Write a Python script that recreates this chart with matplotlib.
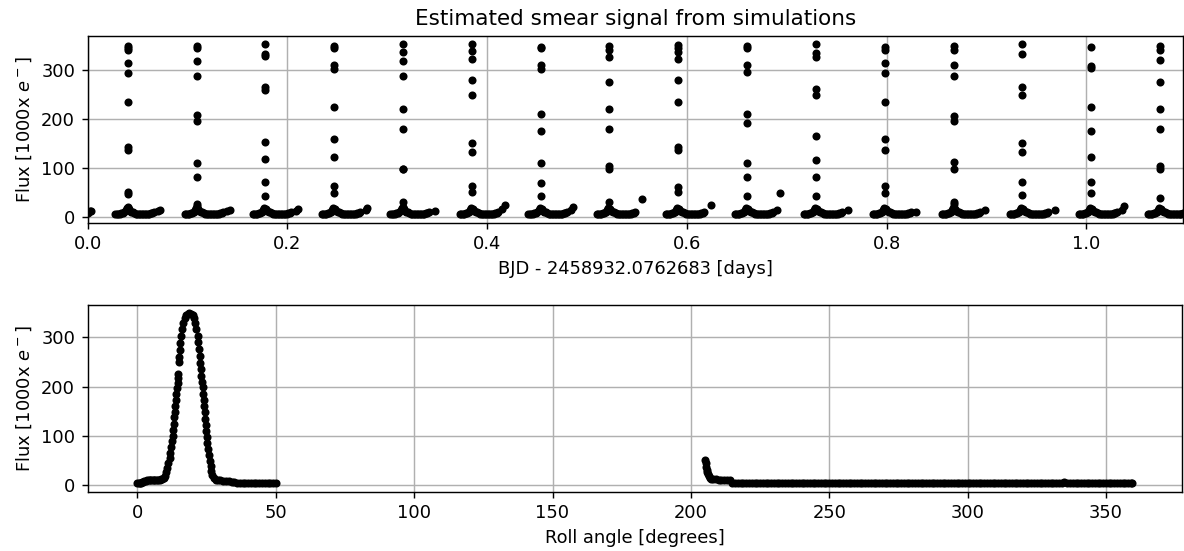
import numpy as np
import matplotlib
matplotlib.use('Agg')
import matplotlib.pyplot as plt

S = 1.29  # scale of the original 72 dpi notebook figure

# --- top panel: flux vs time, one spike per orbit
peak_t = [0.0401, 0.1098, 0.1780, 0.2467, 0.3155, 0.3852, 0.4537, 0.5221,
          0.5915, 0.6606, 0.7294, 0.7985, 0.8676, 0.9360, 1.0048, 1.0739]
spike_flux = [
    [348, 343, 339, 314, 293, 234, 143, 136, 52, 48, 20],
    [348, 343, 318, 286, 207, 195, 111, 81, 27, 22],
    [351, 331, 328, 265, 258, 153, 119, 71, 43],
    [348, 344, 309, 302, 224, 158, 122, 63, 49],
    [351, 336, 317, 286, 219, 180, 97, 97, 31, 20],
    [351, 337, 322, 278, 249, 151, 132, 63, 52],
    [346, 343, 309, 302, 210, 176, 111, 70, 43],
    [348, 339, 326, 274, 219, 180, 105, 97, 31],
    [350, 343, 335, 322, 278, 234, 143, 136, 61, 52],
    [348, 343, 310, 295, 210, 191, 111, 81, 43],
    [351, 333, 326, 260, 249, 165, 117, 81, 43],
    [346, 339, 314, 293, 234, 158, 136, 63, 49],
    [348, 339, 310, 286, 206, 195, 112, 97, 31, 26],
    [351, 331, 265, 249, 151, 132, 71, 45],
    [346, 308, 303, 223, 176, 122, 71, 50],
    [348, 339, 319, 274, 219, 180, 105, 97, 39],
]
# baseline around each spike (offset from spike in days, flux)
base_dt = [-0.0125, -0.0110, -0.0095, -0.0080, -0.0065, -0.0050, -0.0035,
           -0.0020, -0.0010, 0.0010, 0.0020, 0.0035, 0.0050, 0.0065, 0.0080,
           0.0095, 0.0110, 0.0125, 0.0140, 0.0155, 0.0170, 0.0185, 0.0200,
           0.0215, 0.0230, 0.0245, 0.0260]
base_flux = [6, 6, 7, 7, 8, 9, 11, 14, 18, 16, 13, 11, 10, 8, 7, 6, 6, 6, 6,
             6, 6, 6, 7, 7, 8, 9, 10]
# stray points at the end of each orbit
tail_t = [0.0005, 0.0020, 0.0035, 0.0700, 0.0725, 0.1390, 0.1420, 0.2085,
          0.2105, 0.2784, 0.2800, 0.3480, 0.4150, 0.4175, 0.4840, 0.4860,
          0.5550, 0.6240, 0.6900, 0.6933, 0.7610, 0.8300, 0.8986, 0.9688,
          1.0360, 1.0379]
tail_flux = [8, 12, 13, 12, 14, 12, 14, 13, 16, 14, 18, 12, 16, 24, 14, 20,
             36, 25, 14, 50, 14, 11, 14, 14, 14, 22]

# --- bottom panel: flux vs roll angle
near_roll = [0.0, 0.4, 0.8, 1.2, 1.6, 2.0, 2.5, 3.0, 3.5, 4.0, 4.5, 5.0, 5.5,
             6.0, 6.5, 7.0, 7.5, 8.0, 8.5, 9.0,
             9.5, 10.0, 10.4, 10.8, 11.2, 11.6, 11.9, 12.2, 12.5, 12.7, 12.9,
             13.1, 13.3, 13.5, 13.7, 13.9, 14.1, 14.3, 14.5, 14.6, 14.7, 15.0,
             15.1, 15.3, 15.5, 15.8, 16.1, 16.5, 17.0, 17.5, 18.1, 18.8,
             19.4, 20.0, 20.5, 20.9, 21.3, 21.7, 22.0, 22.3, 22.5, 22.7, 22.9,
             23.1, 23.3, 23.5, 23.7, 23.9, 24.1, 24.3, 24.5, 24.7, 24.9, 25.1,
             25.3, 25.6, 25.8, 26.1, 26.4, 26.7, 27.1, 27.6, 28.2,
             29, 30, 31, 32, 33, 34, 35, 36, 37, 38, 39, 40, 41, 42, 43, 44,
             45, 46, 47, 48, 49, 50]
near_flux = [4.5, 4, 4.5, 5, 6, 7, 8, 9, 10, 10, 10, 10, 10, 10, 11, 11, 11,
             11, 12, 12,
             14, 18, 26, 35, 45, 55, 65, 78, 90, 100, 112, 125, 138, 148, 160,
             172, 185, 196, 208, 218, 226, 250, 260, 274, 288, 303, 316, 328,
             338, 344, 347, 348,
             347, 344, 338, 328, 316, 303, 290, 276, 262, 248, 235, 222, 210,
             198, 185, 172, 160, 148, 135, 122, 110, 98, 86, 74, 62, 50, 38,
             28, 20, 14, 11,
             10, 10, 9, 9, 8, 7, 6, 5, 5, 5, 5, 5, 5, 5, 5, 5, 5, 5, 5, 5, 5, 5]
far_roll = [205.1, 205.3, 205.5, 205.7, 205.9, 206.1, 206.4, 206.8, 207.3,
            208.0, 209.0, 210.0, 211.0, 212.0, 213.0, 214.0,
            215, 216, 217, 218, 219, 220, 221, 222, 223, 224,
            225, 226, 227, 228, 229, 230, 231, 232, 233, 234,
            235, 236, 237, 238, 239, 240, 241, 242, 243, 244,
            245, 246, 247, 248, 249, 250, 251, 252, 253, 254,
            255, 256, 257, 258, 259, 260, 261, 262, 263, 264,
            265, 266, 267, 268, 269, 270, 271, 272, 273, 274,
            275, 276, 277, 278, 279, 280, 281, 282, 283, 284,
            285, 286, 287, 288, 289, 290, 291, 292, 293, 294,
            295, 296, 297, 298, 299, 300, 301, 302, 303, 304,
            305, 306, 307, 308, 309, 310, 311, 312, 313, 314,
            315, 316, 317, 318, 319, 320, 321, 322, 323, 324,
            325, 326, 327, 328, 329, 330, 331, 332, 333, 334,
            335, 336, 337, 338, 339, 340, 341, 342, 343, 344,
            345, 346, 347, 348, 349, 350, 351, 352, 353, 354,
            355, 356, 357, 358, 359, 359.5]
far_flux = [51, 44, 37, 31, 26, 22, 18, 15, 13, 12, 12, 11, 11, 11, 11, 10,
            5, 4, 4, 4, 4, 4, 4, 4, 4, 4,
            4, 4, 4, 4, 4, 4, 4, 4, 4, 4,
            4, 4, 4, 4, 4, 4, 4, 4, 4, 4,
            4, 4, 4, 4, 4, 4, 4, 4, 4, 4,
            4, 4, 4, 4, 4, 4, 4, 4, 4, 4,
            4, 4, 4, 4, 4, 4, 4, 4, 4, 4,
            4, 4, 4, 4, 4, 4, 4, 4, 4, 4,
            4, 4, 4, 4, 4, 4, 4, 4, 4, 4,
            4, 4, 4, 4, 4, 4, 4, 4, 4, 4,
            4, 4, 4, 4, 4, 4, 4, 4, 4, 4,
            4, 4, 4, 4, 4, 4, 4, 4, 4, 4,
            4, 4, 4, 4, 4, 4, 4, 4, 4, 4,
            7, 5, 4, 4, 4, 4, 4, 4, 4, 4,
            4, 4, 4, 4, 4, 4, 4, 4, 4, 4,
            4, 4, 4, 4, 4, 4]

plt.rcParams.update({
    'font.size': 10 * S,
    'axes.titlesize': 12 * S,
    'axes.linewidth': 0.8 * S,
    'grid.linewidth': 0.8 * S,
    'xtick.major.size': 3.5 * S,
    'ytick.major.size': 3.5 * S,
    'xtick.major.width': 0.8 * S,
    'ytick.major.width': 0.8 * S,
    'xtick.major.pad': 3.5 * S,
    'ytick.major.pad': 3.5 * S,
    'axes.labelpad': 4 * S,
    'axes.titlepad': 6 * S,
})

# assemble the time series
t_all, f_all = [], []
for tp, fl in zip(peak_t, spike_flux):
    t_all += [tp + d for d in base_dt] + [tp] * len(fl)
    f_all += base_flux + fl
t_all += tail_t
f_all += tail_flux

fig = plt.figure(figsize=(11.84, 5.51), dpi=100)
ax1 = fig.add_axes([0.0741, 0.5958, 0.9248, 0.3389])
ax2 = fig.add_axes([0.0741, 0.1076, 0.9242, 0.3389])

ylab = r'Flux [1000x $e^-$]'
ax1.plot(t_all, f_all, 'k.', ms=7 * S, mew=S)
ax1.set_xlim(0, 1.0966)
ax1.grid()
ax1.set_xlabel('BJD - 2458932.0762683 [days]')
ax1.set_ylabel(ylab)
ax1.set_title('Estimated smear signal from simulations')

ax2.plot(near_roll + far_roll, near_flux + far_flux, 'k.', ms=7 * S, mew=S)
ax2.grid()
ax2.set_xlabel('Roll angle [degrees]')
ax2.set_ylabel(ylab)

fig.savefig('out.png', dpi=100)
